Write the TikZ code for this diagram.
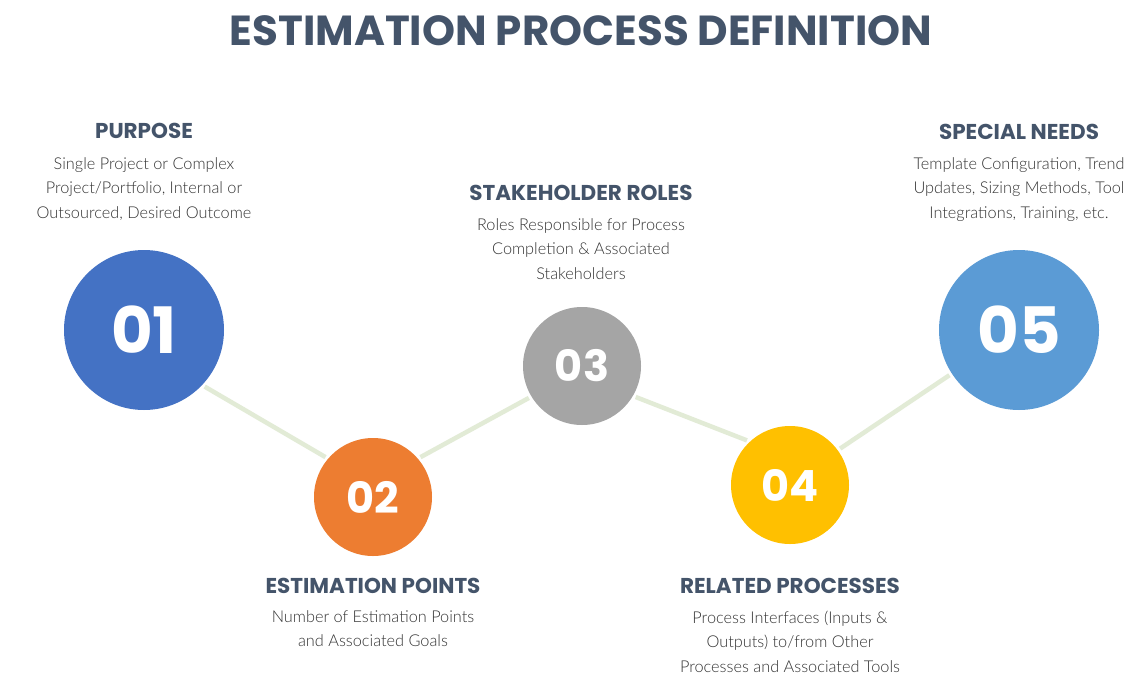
\documentclass[tikz,border=0pt]{standalone}
\usepackage{fontspec}
\newfontfamily\popb[Scale=1.0]{Poppins}[BoldFont=* Bold]
\IfFontExistsTF{Lato Light}{\newfontfamily\bodyf{Lato Light}}{\newfontfamily\bodyf{Lato}}
\definecolor{headc}{HTML}{44546A}
\definecolor{bodyc}{HTML}{333333}
\definecolor{linec}{HTML}{E2EBD6}
\definecolor{cA}{HTML}{4472C4}
\definecolor{cB}{HTML}{ED7D31}
\definecolor{cC}{HTML}{A5A5A5}
\definecolor{cD}{HTML}{FFC000}
\definecolor{cE}{HTML}{5B9BD5}
\tikzset{
  bigcirc/.style={circle, minimum size=160pt, inner sep=0pt, outer sep=3pt, text=white, font=\popb\bfseries\fontsize{64}{64}\selectfont},
  smallcirc/.style={circle, minimum size=118pt, inner sep=0pt, outer sep=3pt, text=white, font=\popb\bfseries\fontsize{43}{43}\selectfont},
  heading/.style={anchor=base, inner sep=0pt, text=headc, font=\popb\bfseries\fontsize{21.5}{24}\selectfont},
  bodytext/.style={anchor=north, inner sep=0pt, align=center, text=bodyc, font=\bodyf\fontsize{16.3}{24.5}\selectfont},
  conn/.style={draw=linec, line width=4.5pt},
}
\newcommand{\fst}{\rule{0pt}{16pt}}
\begin{document}
\begin{tikzpicture}[x=1pt,y=-1pt]
\useasboundingbox[fill=white] (0,0) rectangle (1138,699);
% title
\node[anchor=base, inner sep=0pt, text=headc, font=\popb\bfseries\fontsize{42}{48}\selectfont] (title) at (581,45) {ESTIMATION PROCESS DEFINITION};
% circles
\node[bigcirc, fill=cA] (c1) at (144,330) {01};
\node[smallcirc, fill=cB] (c2) at (373,497) {02};
\node[smallcirc, fill=cC] (c3) at (582,366) {03};
\node[smallcirc, fill=cD] (c4) at (790,485) {04};
\node[bigcirc, fill=cE] (c5) at (1019,330) {05};
% connectors
\draw[conn] (c1.-43) -- (c2.140);
\draw[conn] (c2.40) -- (c3.211);
\draw[conn] (c3.-30) -- (c4.134);
\draw[conn] (c4.36) -- (c5.213.5);
% headings
\node[heading] (h1) at (144,138.5) {PURPOSE};
\node[heading] (h3) at (581,200) {STAKEHOLDER ROLES};
\node[heading] (h5) at (1019,139) {SPECIAL NEEDS};
\node[heading] (h2) at (373,593) {ESTIMATION POINTS};
\node[heading] (h4) at (790,593) {RELATED PROCESSES};
% body
\node[bodytext] (b1) at (144,153) {\fst Single Project or Complex\\Project/Portfolio, Internal or\\Outsourced, Desired Outcome};
\node[bodytext] (b3) at (581,214) {\fst Roles Responsible for Process\\Completion \& Associated\\Stakeholders};
\node[bodytext] (b5) at (1019,153) {\fst Template Configuration, Trend\\Updates, Sizing Methods, Tool\\Integrations, Training, etc.};
\node[bodytext] (b2) at (373,606) {\fst Number of Estimation Points\\and Associated Goals};
\node[bodytext] (b4) at (790,607) {\fst Process Interfaces (Inputs \&\\Outputs) to/from Other\\Processes and Associated Tools};
\end{tikzpicture}
\end{document}
